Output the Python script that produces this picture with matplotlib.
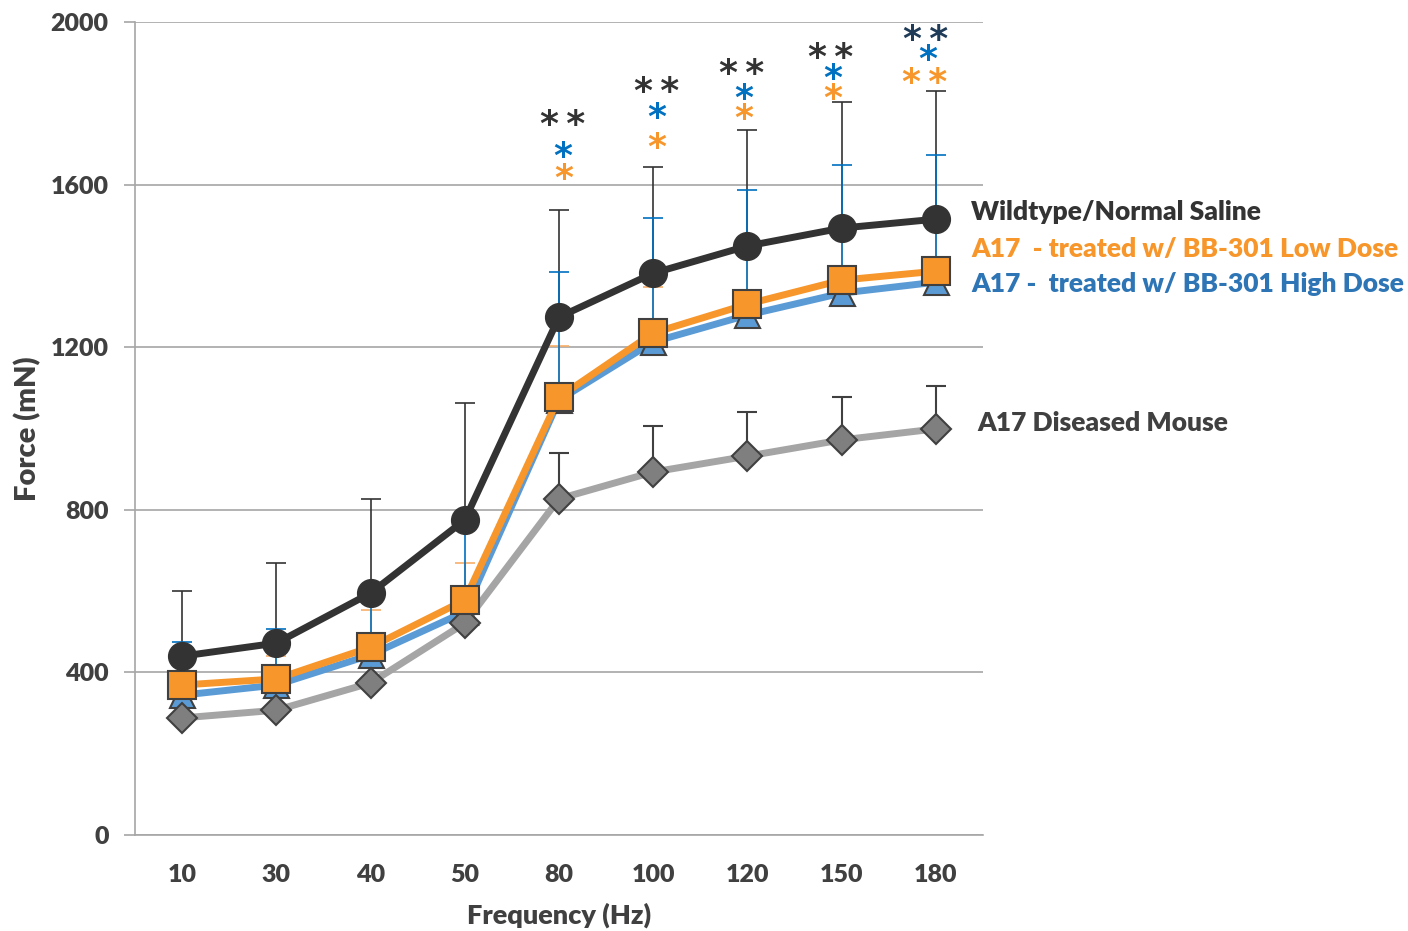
import matplotlib
matplotlib.use("Agg")
import matplotlib.pyplot as plt
import numpy as np

plt.rcParams['font.family'] = ['Lato', 'DejaVu Sans']

freq = ['10', '30', '40', '50', '80', '100', '120', '150', '180']
wildtype = [440, 472, 595, 775, 1274, 1382, 1449, 1493, 1515]
wildtype_up = [600, 669, 826, 1063, 1537, 1643, 1734, 1802, 1830]
low_dose = [369, 384, 462, 578, 1077, 1235, 1306, 1365, 1387]
low_dose_up = [430, 440, 553, 669, 1204, 1348, 1440, 1480, 1500]
high_dose = [344, 369, 443, 549, 1070, 1213, 1279, 1333, 1360]
high_dose_up = [474, 507, 590, 760, 1384, 1519, 1586, 1647, 1674]
diseased = [288, 307, 374, 521, 827, 893, 932, 972, 999]
diseased_up = [288, 307, 374, 521, 939, 1007, 1040, 1077, 1105]

# significance annotations: (index, x-offset, y, text, colour)
sig_marks = [
    (4, 0.04, 1764, '**', '#333333'), (4, 0.04, 1685, '*', '#0070C0'), (4, 0.05, 1631, '*', '#F7962B'),
    (5, 0.04, 1845, '**', '#333333'), (5, 0.04, 1781, '*', '#0070C0'), (5, 0.04, 1707, '*', '#F7962B'),
    (6, -0.06, 1889, '**', '#333333'), (6, -0.04, 1828, '*', '#0070C0'), (6, -0.04, 1779, '*', '#F7962B'),
    (7, -0.12, 1929, '**', '#333333'), (7, -0.10, 1877, '*', '#0070C0'), (7, -0.10, 1828, '*', '#F7962B'),
    (8, -0.11, 1973, '**', '#1F3B57'), (8, -0.09, 1924, '*', '#0070C0'), (8, -0.12, 1867, '**', '#F7962B'),
]

fig = plt.figure(figsize=(14.08, 9.31), dpi=100)
ax = fig.add_axes([135/1408, 96/931, 848/1408, 813/931])
x = np.arange(len(freq))

def errs(vals, ups):
    return [np.zeros(len(vals)), np.array(ups) - np.array(vals)]

W = 'heavy'

# error bars (behind lines)
ax.errorbar(x, high_dose, yerr=errs(high_dose, high_dose_up), fmt='none', ecolor='#0070C0',
            elinewidth=1.2, capsize=7, capthick=1.2, zorder=1.2)
ax.errorbar(x, low_dose, yerr=errs(low_dose, low_dose_up), fmt='none', ecolor='#F7AE6A',
            elinewidth=1.2, capsize=7, capthick=1.2, zorder=1.1)
ax.errorbar(x, wildtype, yerr=errs(wildtype, wildtype_up), fmt='none', ecolor='#333333',
            elinewidth=1.2, capsize=7, capthick=1.2, zorder=1.0)
ax.errorbar(x, diseased, yerr=errs(diseased, diseased_up), fmt='none', ecolor='#404040',
            elinewidth=1.5, capsize=7, capthick=1.5, zorder=1.3)

ax.plot(x, high_dose, color='#5B9BD5', lw=5, marker='^', ms=18, mfc='#5B9BD5',
        mec='#404040', mew=1.5, zorder=3)
ax.plot(x, diseased, color='#A5A5A5', lw=5, marker='D', ms=15, mfc='#7F7F7F',
        mec='#404040', mew=1.5, zorder=3.5)
ax.plot(x, low_dose, color='#F7962B', lw=5, marker='s', ms=20, mfc='#F7962B',
        mec='#404040', mew=1.5, zorder=4)
ax.plot(x, wildtype, color='#333333', lw=5, marker='o', ms=20, mfc='#333333',
        mec='#333333', mew=1, zorder=5)

for idx, dx, yv, txt, col in sig_marks:
    ax.text(idx + dx, yv - 18, txt.replace('**', '*\u2009*'), color=col, fontsize=26, ha='center',
            va='center', family=['DejaVu Sans'], fontweight='bold', zorder=6)

ax.set_xlim(-0.5, len(freq) - 0.5)
ax.set_ylim(0, 2000)
ax.set_yticks([0, 400, 800, 1200, 1600, 2000])
ax.set_xticks(x)
ax.set_xticklabels(freq)
ax.grid(axis='y', color='#A6A6A6', lw=1.2)
ax.set_axisbelow(True)
for s in ['top', 'right']:
    ax.spines[s].set_visible(False)
ax.spines['left'].set_color('#A6A6A6')
ax.spines['bottom'].set_color('#A6A6A6')
ax.spines['left'].set_linewidth(1.2)
ax.spines['bottom'].set_linewidth(1.2)
ax.tick_params(axis='y', length=8, color='#A6A6A6', width=1.2, pad=11, labelsize=18,
               labelcolor='#404040')
ax.tick_params(axis='x', length=0, pad=21, labelsize=18, labelcolor='#404040')
for lab in ax.get_xticklabels() + ax.get_yticklabels():
    lab.set_fontweight(W)

ax.set_xlabel('Frequency (Hz)', fontsize=19.5, fontweight=W, color='#404040', labelpad=12)
ax.set_ylabel('Force (mN)', fontsize=21, fontweight=W, color='#404040', labelpad=7)

fig.text(971/1408, 1 - 212/931, 'Wildtype/Normal Saline', fontsize=19, fontweight=W,
         color='#333333', va='center', ha='left')
fig.text(971/1408, 1 - 249/931, 'A17  - treated w/ BB-301 Low Dose', fontsize=19, fontweight=W,
         color='#F7962B', va='center', ha='left')
fig.text(971/1408, 1 - 284/931, 'A17 -  treated w/ BB-301 High Dose', fontsize=19, fontweight=W,
         color='#2E75B6', va='center', ha='left')
fig.text(977/1408, 1 - 423/931, 'A17 Diseased Mouse', fontsize=19, fontweight=W,
         color='#404040', va='center', ha='left')

fig.savefig('out.png', dpi=100)
